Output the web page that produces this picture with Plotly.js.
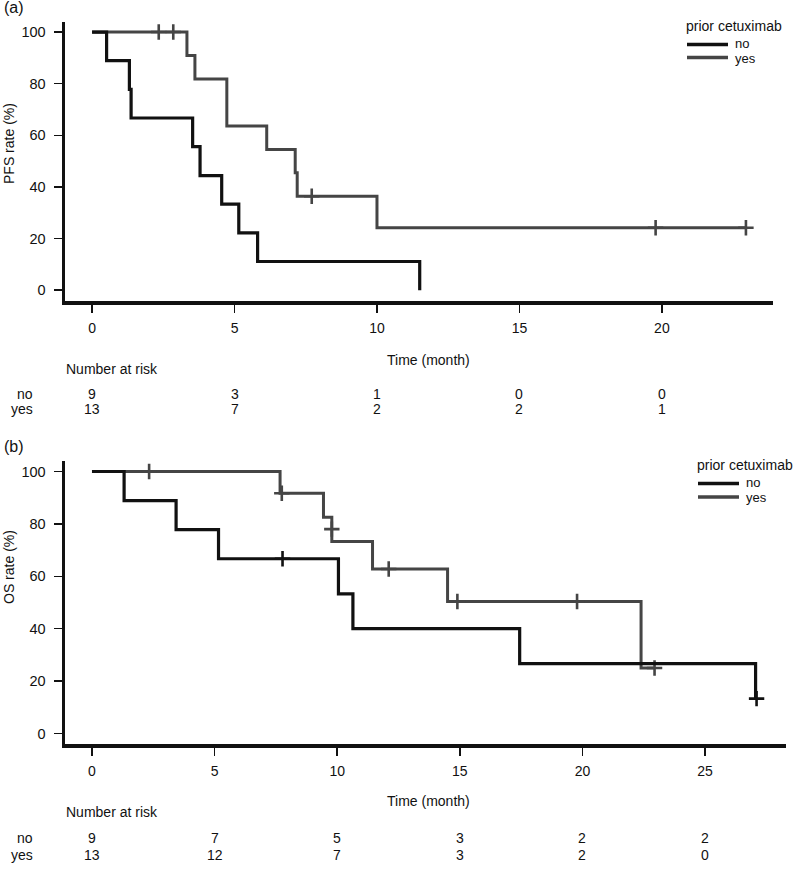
<!DOCTYPE html>
<html>
<head>
<meta charset="utf-8">
<script src="https://cdn.plot.ly/plotly-3.0.1.min.js"></script>
<style>html,body{margin:0;padding:0;background:#fff;}#chart{width:800px;height:873px;}</style>
</head>
<body>
<div id="chart"></div>
<script>
// ---------- DATA ----------
const groupNames = ["no", "yes"];
const legendTitle = "prior cetuximab";

// (a) PFS
const pfsNoTime  = [0, 0.51, 1.31, 1.37, 3.53, 3.79, 4.55, 5.15, 5.81, 11.5];
const pfsNoSurv  = [100, 88.9, 77.8, 66.7, 55.6, 44.4, 33.3, 22.2, 11.1, 0];
const pfsNoCensTime = [];
const pfsNoCensSurv = [];
const pfsYesTime = [0, 3.33, 3.61, 4.73, 6.13, 7.13, 7.2, 10.0, 22.95];
const pfsYesSurv = [100, 90.9, 81.8, 63.6, 54.5, 45.5, 36.4, 24.2, 24.2];
const pfsYesCensTime = [2.34, 2.85, 7.71, 19.78, 22.95];
const pfsYesCensSurv = [100, 100, 36.4, 24.2, 24.2];
const pfsRiskTimes = [0, 5, 10, 15, 20];
const pfsRiskNo  = [9, 3, 1, 0, 0];
const pfsRiskYes = [13, 7, 2, 2, 1];

// (b) OS
const osNoTime  = [0, 1.31, 3.43, 5.16, 10.05, 10.64, 17.44, 27.06];
const osNoSurv  = [100, 88.9, 77.8, 66.7, 53.3, 40.0, 26.7, 13.3];
const osNoCensTime = [7.77, 27.1];
const osNoCensSurv = [66.7, 13.3];
const osYesTime = [0, 7.67, 9.44, 9.78, 11.44, 14.5, 22.39, 22.94];
const osYesSurv = [100, 91.7, 82.5, 73.3, 62.8, 50.4, 25.0, 25.0];
const osYesCensTime = [2.33, 7.74, 9.78, 12.1, 14.9, 19.78, 22.94];
const osYesCensSurv = [100, 91.7, 78.0, 62.8, 50.4, 50.4, 25.0];
const osRiskTimes = [0, 5, 10, 15, 20, 25];
const osRiskNo  = [9, 7, 5, 3, 2, 2];
const osRiskYes = [13, 12, 7, 3, 2, 0];

const yTicks = [0, 20, 40, 60, 80, 100];
const pfsXTicks = [0, 5, 10, 15, 20];
const osXTicks = [0, 5, 10, 15, 20, 25];

// ---------- STYLE ----------
const W = 800, H = 873;
const X = px => px / W;
const Y = py => 1 - py / H;
const FONT = "Liberation Sans, Arial, Helvetica, sans-serif";
const TXT = "#111";
const colNo = "#111111", colYes = "#454545";

function curve(t, s, col, xa, ya, w) {
  return {type: "scatter", mode: "lines", x: t, y: s, xaxis: xa, yaxis: ya,
    line: {shape: "hv", color: col, width: w}, showlegend: false, hoverinfo: "skip"};
}
function cens(t, s, col, xa, ya) {
  return {type: "scatter", mode: "markers", x: t, y: s, xaxis: xa, yaxis: ya,
    marker: {symbol: "cross-thin", size: 11, color: col, line: {color: col, width: 2.6}},
    showlegend: false, hoverinfo: "skip"};
}

const data = [
  curve(pfsYesTime, pfsYesSurv, colYes, "x", "y", 3),
  cens(pfsYesCensTime, pfsYesCensSurv, colYes, "x", "y"),
  curve(pfsNoTime, pfsNoSurv, colNo, "x", "y", 3.2),
  cens(pfsNoCensTime, pfsNoCensSurv, colNo, "x", "y"),
  curve(osYesTime, osYesSurv, colYes, "x2", "y2", 3),
  cens(osYesCensTime, osYesCensSurv, colYes, "x2", "y2"),
  curve(osNoTime, osNoSurv, colNo, "x2", "y2", 3.2),
  cens(osNoCensTime, osNoCensSurv, colNo, "x2", "y2")
];

function xax(range, dom, ticks) {
  return {domain: [X(dom[0]), X(dom[1])], range: range, tickmode: "array", tickvals: ticks,
    ticktext: ticks.map(String), ticks: "outside", ticklen: 8, tickwidth: 1.5, tickcolor: "#111",
    showline: true, linewidth: 3.5, linecolor: "#111", showgrid: false, zeroline: false,
    ticklabelstandoff: 4, tickfont: {family: FONT, size: 14, color: TXT}, fixedrange: true};
}
function yax(range, dom, anchor) {
  return {domain: [Y(dom[1]), Y(dom[0])], range: range, anchor: anchor, tickmode: "array",
    tickvals: yTicks, ticktext: yTicks.map(String), ticks: "outside", ticklen: 8, tickwidth: 1.5,
    tickcolor: "#111", showline: true, linewidth: 3.5, linecolor: "#111", showgrid: false,
    zeroline: false, ticklabelstandoff: 5, tickfont: {family: FONT, size: 14.5, color: TXT},
    fixedrange: true};
}

const annotations = [];
const shapes = [];
function txt(text, x, y, opts) {
  annotations.push(Object.assign({text: text, x: x, y: y, xref: "paper", yref: "paper",
    showarrow: false, xanchor: "center", yanchor: "middle", borderpad: 0,
    font: {family: FONT, size: 14, color: TXT}}, opts || {}));
}

// panel labels
txt("(a)", X(3), Y(8), {xanchor: "left", font: {family: FONT, size: 16, color: TXT}});
txt("(b)", X(3), Y(447), {xanchor: "left", font: {family: FONT, size: 16, color: TXT}});
// y titles
txt("PFS rate (%)", X(9), Y(144), {textangle: -90});
txt("OS rate (%)", X(9), Y(567), {textangle: -90});
// x titles
txt("Time (month)", X(428), Y(360));
txt("Time (month)", X(428), Y(801));

// risk tables
function riskTable(times, no, yes, xref, yHead, yNo, yYes) {
  txt("Number at risk", X(65), Y(yHead), {xanchor: "left"});
  txt(groupNames[0], X(34), Y(yNo), {xanchor: "right"});
  txt(groupNames[1], X(34), Y(yYes), {xanchor: "right"});
  times.forEach((t, i) => {
    txt(String(no[i]), t, Y(yNo), {xref: xref});
    txt(String(yes[i]), t, Y(yYes), {xref: xref});
  });
}
riskTable(pfsRiskTimes, pfsRiskNo, pfsRiskYes, "x", 369, 394, 409);
riskTable(osRiskTimes, osRiskNo, osRiskYes, "x2", 812, 838, 855);

// legends
function legend(x0, yTitle, yNo, yYes) {
  txt(legendTitle, X(x0 - 1), Y(yTitle), {xanchor: "left"});
  shapes.push({type: "line", xref: "paper", yref: "paper", x0: X(x0 + 1), x1: X(x0 + 42),
    y0: Y(yNo), y1: Y(yNo), line: {color: colNo, width: 3.5}});
  shapes.push({type: "line", xref: "paper", yref: "paper", x0: X(x0 + 1), x1: X(x0 + 42),
    y0: Y(yYes), y1: Y(yYes), line: {color: colYes, width: 3.5}});
  txt(groupNames[0], X(x0 + 48), Y(yNo - 0.6), {xanchor: "left", font: {family: FONT, size: 13, color: TXT}});
  txt(groupNames[1], X(x0 + 48), Y(yYes + 0.8), {xanchor: "left", font: {family: FONT, size: 13, color: TXT}});
}
legend(686, 26, 44.5, 57.5);
legend(697, 465, 483.5, 497);

const layout = {
  width: W, height: H, margin: {l: 0, r: 0, t: 0, b: 0},
  paper_bgcolor: "#fff", plot_bgcolor: "#fff", showlegend: false,
  xaxis: xax([-0.95, 23.9], [65, 773], pfsXTicks),
  yaxis: yax([-4.2, 103.9], [22, 301], "x"),
  xaxis2: Object.assign(xax([-1.1, 28.3], [65, 786], osXTicks), {anchor: "y2"}),
  yaxis2: yax([-4, 104], [461, 744], "x2"),
  annotations: annotations, shapes: shapes
};
layout.xaxis.anchor = "y";

Plotly.newPlot("chart", data, layout, {displayModeBar: false, staticPlot: true});
</script>
</body>
</html>
